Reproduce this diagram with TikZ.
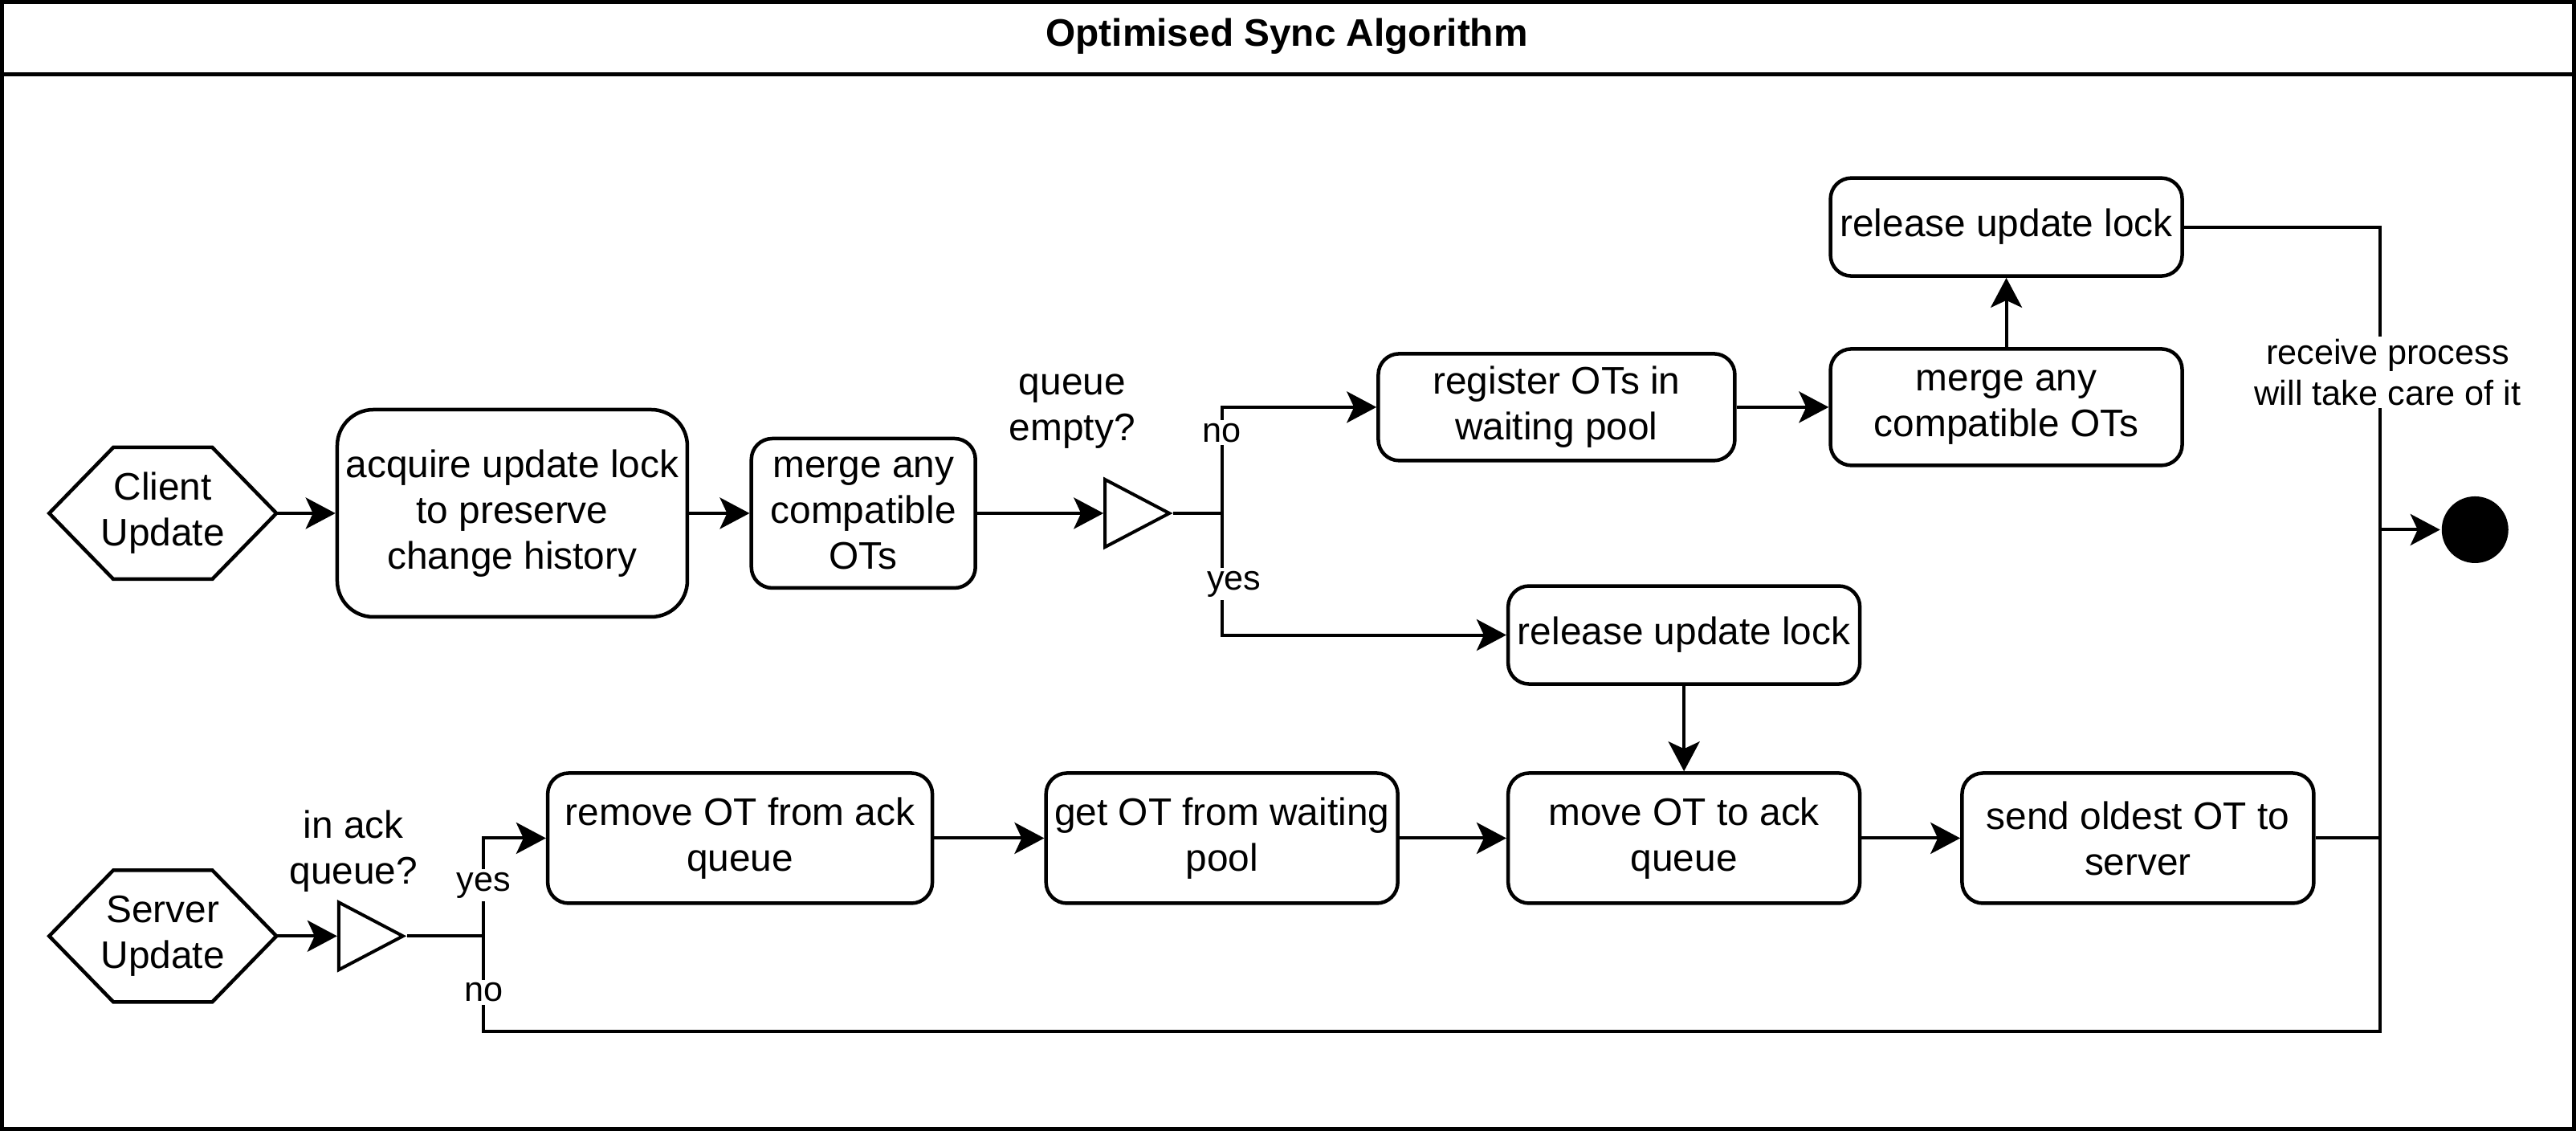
\documentclass[tikz,border=0pt]{standalone}
\usepackage{fontspec}
\setmainfont{Liberation Sans}
\usetikzlibrary{calc,positioning,shapes.geometric,arrows.meta}

\begin{document}
\begin{tikzpicture}[x=0.2048mm,y=-0.2048mm,line width=0.4mm]

\tikzset{actnode/.style={font=\fontsize{13.6}{16.2}\selectfont,draw,line width=0.45mm,rounded corners=2.6mm,align=center,inner sep=0pt,minimum width=43.8mm},
hexnode/.style={font=\fontsize{13.6}{16.2}\selectfont,align=center,inner sep=0pt,minimum width=27.9mm,minimum height=16mm},
decnode/.style={draw,shape=isosceles triangle,isosceles triangle stretches,inner sep=0pt,minimum width=8.4mm,minimum height=8mm,anchor=lower side},
txtnode/.style={font=\fontsize{13.6}{16.2}\selectfont,align=center,inner sep=1pt},
lblnode/.style={font=\fontsize{12.3}{14.5}\selectfont,align=center,inner sep=1pt,fill=white},
flow/.style={-{Stealth[length=3.7mm,width=3.9mm,inset=0.9mm]}}}

\useasboundingbox (0,0) rectangle (1566.4,687.5);

% Frame and title
\draw[line width=0.5mm] (1.2,1.2) rectangle (1565.2,686.3);
\draw[line width=0.5mm] (1.2,45) -- (1565.2,45);
\node[txtnode,font=\fontsize{13.6}{16.2}\selectfont\bfseries] (title) at (782.5,22) {Optimised Sync Algorithm};

% client row
\node[hexnode] (cu) at (99,312) {Client\\Update};
\node[actnode,minimum width=43.6mm,minimum height=25.8mm,rounded corners=4.5mm] (acq) at (311.5,312) {acquire update lock\\to preserve\\change history};
\node[actnode,minimum width=27.9mm,minimum height=18.6mm] (mg1) at (525,312) {merge any\\compatible\\OTs};
\node[decnode] (dq1) at (671,312) {};
\node[txtnode] (dq1l) at (652,250) {queue\\empty?};
\coordinate (fk1) at (743,312);
\node[actnode,minimum width=44.4mm,minimum height=13.3mm] (reg) at (946.5,247.5) {register OTs in\\waiting pool};
\node[actnode,minimum height=14.5mm] (mg2) at (1220,247.5) {merge any\\compatible OTs};
\node[actnode,minimum height=12.2mm] (rl1) at (1220,138) {release update lock};
\node[actnode,minimum height=12.2mm] (rl2) at (1024,386) {release update lock};

% server row
\node[hexnode] (su) at (99,569) {Server\\Update};
\node[decnode] (dq2) at (205,569) {};
\node[txtnode] (dq2l) at (215,517.5) {in ack\\queue?};
\coordinate (fk2) at (294,569); \coordinate (nb) at (294,627);
\node[actnode,minimum width=47.9mm,minimum height=16.2mm] (rm) at (450,509.5) {remove OT from ack\\queue};
\node[actnode,minimum height=16.2mm] (gt) at (743,509.5) {get OT from waiting\\pool};
\node[actnode,minimum height=16.2mm] (mv) at (1024,509.5) {move OT to ack\\queue};
\node[actnode,minimum height=16.2mm] (so) at (1300,509.5) {send oldest OT to\\server};

% join and final node
\coordinate (jn) at (1447,322);
\node[circle,fill,minimum size=8.3mm,inner sep=0pt] (fin) at (1505,322) {};

% hexagon outlines
\foreach \h in {cu,su} \draw[line width=0.45mm] (\h.west) -- ($(\h.north west)+(39,0)$) -- ($(\h.north east)+(-39,0)$) -- (\h.east) -- ($(\h.south east)+(-39,0)$) -- ($(\h.south west)+(39,0)$) -- cycle;

% Edges
\draw[flow] (cu) -- (acq); \draw[flow] (acq) -- (mg1); \draw[flow] (mg1) -- (dq1); \draw (dq1.apex) -- (fk1);
\draw[flow] (fk1) |- node[lblnode,pos=0.38]{no} (reg);
\draw[flow] (fk1) |- node[lblnode,pos=0.29,xshift=1.5mm]{yes} (rl2);
\draw[flow] (reg) -- (mg2); \draw[flow] (mg2) -- (rl1); \draw[flow] (rl2) -- (mv);
\draw (rl1) -| node[lblnode,pos=0.74,xshift=1mm]{receive process\\will take care of it} (jn);
\draw[flow] (su) -- (dq2); \draw (dq2.apex) -- (fk2);
\draw[flow] (fk2) |- node[lblnode,pos=0.26]{yes} (rm);
\draw[flow] (rm) -- (gt); \draw[flow] (gt) -- (mv); \draw[flow] (mv) -- (so);
\draw (so) -| (jn); \draw (fk2) -- node[lblnode,pos=0.59]{no} (nb) -| (jn);
\draw[flow] (jn) -- (fin);

\end{tikzpicture}
\end{document}
